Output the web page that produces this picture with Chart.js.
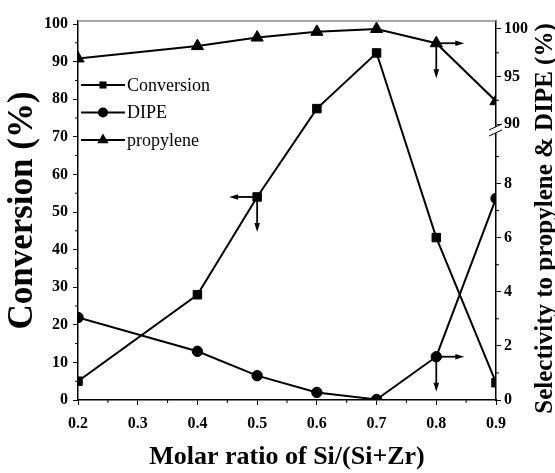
<!DOCTYPE html>
<html>
<head>
<meta charset="utf-8">
<script src="https://cdn.jsdelivr.net/npm/chart.js@4.4.1/dist/chart.umd.min.js"></script>
<style>
  html, body { margin: 0; padding: 0; background: #fff; }
  #wrap { width: 555px; height: 473px; }
</style>
</head>
<body>
<div id="wrap"><canvas id="chart"></canvas></div>
<script>
// values
const ratios = [0.2, 0.4, 0.5, 0.6, 0.7, 0.8, 0.9];
const conversion = [5, 28, 54, 77.5, 92.3, 43.2, 4.6];
const dipe = [3.05, 1.8, 0.9, 0.28, 0.02, 1.6, 7.45];
const propylene = [96.9, 98.2, 99.1, 99.7, 100, 98.5, 92.4];

const seriesNames = ['Conversion', 'DIPE', 'propylene'];

// arrows telling which axis a curve belongs to: [dataset, point index, horizontal direction]
const arrowMarks = [[0, 2, 'left'], [1, 5, 'right'], [2, 5, 'right']];

const serif = "'Liberation Serif', 'Times New Roman', serif";

/**
 * Pairs the x values with one series.
 */
function points (values) {
    return ratios.map((x, i) => ({ x: x, y: values[i] }));
}

function marker (ctx, style, x, y, r) {
    ctx.beginPath();
    if (style === 'rect') {
        let s = r * Math.SQRT1_2;
        ctx.rect(x - s, y - s, 2 * s, 2 * s);
    } else if (style === 'triangle') {
        for (let k = 0; k < 3; k++) {
            let a = k * 2 * Math.PI / 3;
            ctx[k ? 'lineTo' : 'moveTo'](x + Math.sin(a) * r, y - Math.cos(a) * r);
        }
        ctx.closePath();
    } else {
        ctx.arc(x, y, r, 0, 2 * Math.PI);
    }
    ctx.fill();
}

function arrow (ctx, x0, y0, x1, y1) {
    let ang = Math.atan2(y1 - y0, x1 - x0);
    ctx.beginPath();
    ctx.moveTo(x0, y0);
    ctx.lineTo(x1 - Math.cos(ang) * 4, y1 - Math.sin(ang) * 4);
    ctx.stroke();
    ctx.save();
    ctx.translate(x1, y1);
    ctx.rotate(ang);
    ctx.beginPath();
    ctx.moveTo(0, 0);
    ctx.lineTo(-9, -2.8);
    ctx.lineTo(-9, 2.8);
    ctx.closePath();
    ctx.fill();
    ctx.restore();
}

const decor = {
    id: 'decor',
    afterDraw (chart) {
        const ctx = chart.ctx, area = chart.chartArea, sc = chart.scales;
        ctx.save();
        ctx.fillStyle = '#000';
        ctx.strokeStyle = '#000';

        // grey top frame line
        ctx.strokeStyle = '#8a8a8a';
        ctx.lineWidth = 1.5;
        ctx.beginPath();
        ctx.moveTo(area.left, area.top);
        ctx.lineTo(area.right, area.top);
        ctx.stroke();
        ctx.strokeStyle = '#000';

        // minor ticks
        ctx.lineWidth = 1;
        const minor = [['x', 0.05, 0.1], ['y', 5, 10], ['yTop', 2.5, 5], ['yLow', 1, 2]];
        minor.forEach(([id, step, major]) => {
            let s = sc[id];
            for (let v = Math.ceil(s.min / step) * step; v <= s.max + 1e-9; v += step) {
                let r = v / major;
                if (Math.abs(r - Math.round(r)) < 1e-6) continue;
                ctx.beginPath();
                let p = s.getPixelForValue(v);
                if (id === 'x') {
                    ctx.moveTo(p, area.bottom);
                    ctx.lineTo(p, area.bottom + 3);
                } else if (id === 'y') {
                    ctx.moveTo(area.left, p);
                    ctx.lineTo(area.left - 3, p);
                } else {
                    ctx.moveTo(area.right, p);
                    ctx.lineTo(area.right + 3, p);
                }
                ctx.stroke();
            }
        });

        // axis break
        let yb = sc.yLow.top;
        ctx.fillStyle = '#fff';
        ctx.fillRect(area.right - 2, yb - 3, 4, 6);
        ctx.fillStyle = '#000';
        ctx.lineWidth = 1;
        [-3, 3].forEach(d => {
            ctx.beginPath();
            ctx.moveTo(area.right - 7, yb + d + 3);
            ctx.lineTo(area.right + 6, yb + d - 3);
            ctx.stroke();
        });

        // axis-pointing arrows
        ctx.lineWidth = 1.8;
        arrowMarks.forEach(([ds, i, dir]) => {
            let el = chart.getDatasetMeta(ds).data[i];
            let dx = dir === 'left' ? -28 : 28;
            arrow(ctx, el.x, el.y, el.x + dx, el.y);
            arrow(ctx, el.x, el.y, el.x, el.y + 35);
        });

        // legend
        ctx.font = '18px ' + serif;
        ctx.textBaseline = 'middle';
        chart.data.datasets.forEach((d, i) => {
            let y = area.top + 64 + i * 27.5;
            let x = area.left + 3;
            ctx.lineWidth = 2;
            ctx.beginPath();
            ctx.moveTo(x, y);
            ctx.lineTo(x + 44, y);
            ctx.stroke();
            marker(ctx, d.pointStyle, x + 22, y, d.pointStyle === 'triangle' ? 6.5 : 5);
            ctx.fillText(d.label, x + 46, y + 1);
        });

        // right axis title, shared by both stacked scales
        ctx.save();
        ctx.translate(546, (area.top + area.bottom) / 2 + 8);
        ctx.rotate(-Math.PI / 2);
        ctx.textAlign = 'center';
        ctx.font = 'bold 25px ' + serif;
        ctx.fillText('Selectivity to propylene & DIPE (%)', 0, 0);
        ctx.restore();

        ctx.restore();
    }
};

const tickFont = { family: serif, size: 16, weight: 'bold' };
const gridOpts = { drawOnChartArea: false, tickLength: 5, tickColor: '#000', tickWidth: 1 };
const borderOpts = { color: '#000', width: 1.5 };

new Chart(document.getElementById('chart').getContext('2d'), {
    type: 'line',
    data: {
        datasets: [{
            label: seriesNames[0],
            data: points(conversion),
            yAxisID: 'y',
            pointStyle: 'rect',
            pointRadius: 6
        }, {
            label: seriesNames[1],
            data: points(dipe),
            yAxisID: 'yLow',
            pointStyle: 'circle',
            pointRadius: 5.2
        }, {
            label: seriesNames[2],
            data: points(propylene),
            yAxisID: 'yTop',
            pointStyle: 'triangle',
            pointRadius: 7
        }].map(d => Object.assign(d, {
            borderColor: '#000',
            backgroundColor: '#000',
            pointBackgroundColor: '#000',
            pointBorderColor: '#000',
            pointBorderWidth: 1,
            borderWidth: 2,
            tension: 0
        }))
    },
    options: {
        responsive: true,
        maintainAspectRatio: false,
        animation: false,
        layout: { padding: { top: 21 } },
        plugins: {
            legend: { display: false },
            tooltip: { enabled: false }
        },
        scales: {
            x: {
                type: 'linear',
                min: 0.2,
                max: 0.9,
                ticks: {
                    stepSize: 0.1,
                    callback: v => v.toFixed(1),
                    font: tickFont,
                    color: '#000',
                    padding: 9,
                    maxRotation: 0,
                    autoSkip: false
                },
                grid: gridOpts,
                border: borderOpts,
                title: {
                    display: true,
                    text: 'Molar ratio of Si/(Si+Zr)',
                    color: '#000',
                    font: { family: serif, size: 26, weight: 'bold' },
                    padding: { top: 0, bottom: 0 }
                },
                afterFit: s => { s.height = 73; }
            },
            y: {
                position: 'left',
                min: 0,
                max: 100.8,
                ticks: { stepSize: 10, includeBounds: false, font: tickFont, color: '#000', padding: 5 },
                grid: gridOpts,
                border: borderOpts,
                title: {
                    display: true,
                    text: 'Conversion (%)',
                    color: '#000',
                    font: { family: serif, size: 35, weight: 'bold' },
                    padding: { top: 2, bottom: 0 }
                },
                afterFit: s => { s.width = 78; }
            },
            yTop: {
                position: 'right',
                stack: 'right',
                stackWeight: 109,
                min: 89.37,
                max: 100.84,
                ticks: { stepSize: 5, includeBounds: false, font: tickFont, color: '#000', padding: 3 },
                grid: gridOpts,
                border: borderOpts,
                afterFit: s => { s.width = 59; }
            },
            yLow: {
                position: 'right',
                stack: 'right',
                stackWeight: 270,
                min: 0,
                max: 9.98,
                ticks: { stepSize: 2, includeBounds: false, font: tickFont, color: '#000', padding: 3 },
                grid: gridOpts,
                border: borderOpts,
                afterFit: s => { s.width = 59; }
            }
        }
    },
    plugins: [decor]
});
</script>
</body>
</html>
